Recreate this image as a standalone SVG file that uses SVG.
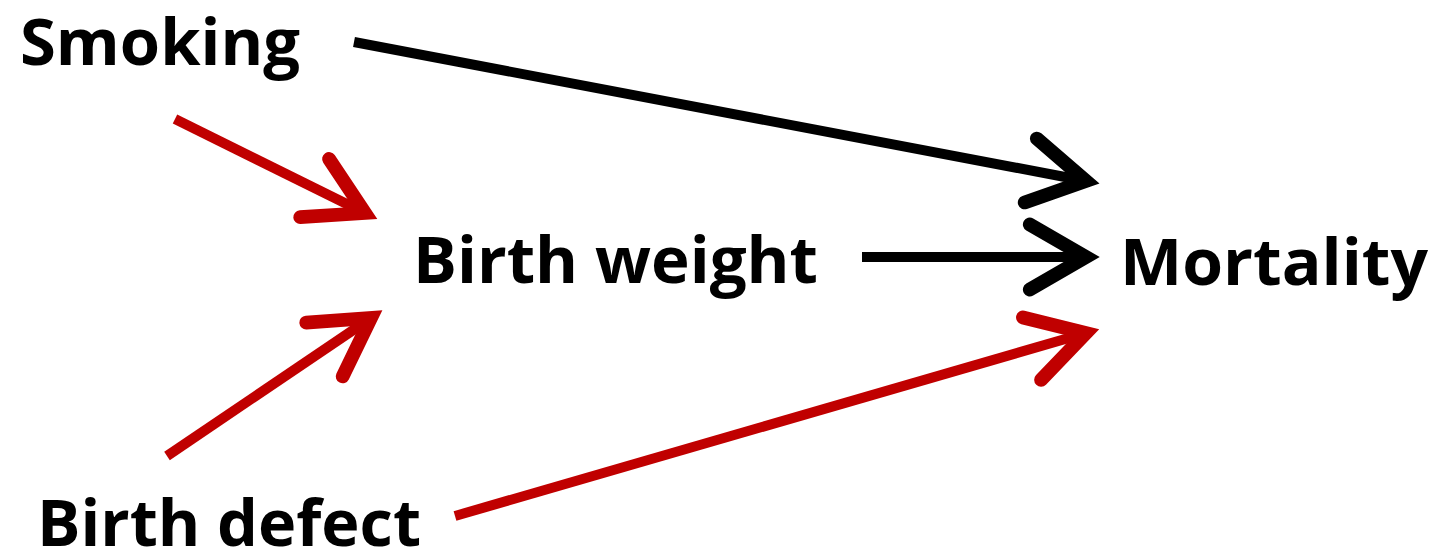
<svg xmlns="http://www.w3.org/2000/svg" width="1435" height="553" viewBox="0 0 1435 553">
<style>
.lbl{font-family:"Open Sans","Liberation Sans",sans-serif;font-weight:bold;font-size:64px;fill:#000}
.edge{fill:none;stroke-width:10;stroke-linecap:butt}
.blk{stroke:#000}
.red{stroke:#C00000}
</style>
<defs>
<marker id="ab" markerUnits="userSpaceOnUse" orient="auto" refX="0" refY="0" markerWidth="100" markerHeight="100" viewBox="-70 -40 80 80" overflow="visible">
<path d="M-45,-26 L0,0 L-45,26" fill="none" stroke="#000" stroke-width="11" stroke-linecap="round" stroke-linejoin="miter" stroke-miterlimit="10"/>
</marker>
<marker id="ar" markerUnits="userSpaceOnUse" orient="auto" refX="0" refY="0" markerWidth="100" markerHeight="100" viewBox="-70 -40 80 80" overflow="visible">
<path d="M-45,-26 L0,0 L-45,26" fill="none" stroke="#C00000" stroke-width="11" stroke-linecap="round" stroke-linejoin="miter" stroke-miterlimit="10"/>
</marker>
</defs>
<rect width="1435" height="553" fill="#fff"/>
<g id="connectors">
<line class="edge blk" x1="354" y1="42" x2="1086" y2="181" marker-end="url(#ab)"/>
<line class="edge blk" x1="862" y1="257" x2="1086" y2="257" marker-end="url(#ab)"/>
<line class="edge red" x1="175" y1="119" x2="365" y2="213" marker-end="url(#ar)"/>
<line class="edge red" x1="167" y1="456" x2="371" y2="318" marker-end="url(#ar)"/>
<line class="edge red" x1="455" y1="516" x2="1086" y2="333" marker-end="url(#ar)"/>
</g>
<g id="smoking"><text class="lbl" x="20" y="65" textLength="280" lengthAdjust="spacingAndGlyphs">Smoking</text></g>
<g id="birth-weight"><text class="lbl" x="413" y="283" textLength="405" lengthAdjust="spacingAndGlyphs">Birth weight</text></g>
<g id="mortality"><text class="lbl" x="1120" y="285" textLength="308" lengthAdjust="spacingAndGlyphs">Mortality</text></g>
<g id="birth-defect"><text class="lbl" x="37" y="546" textLength="384" lengthAdjust="spacingAndGlyphs">Birth defect</text></g>
</svg>
